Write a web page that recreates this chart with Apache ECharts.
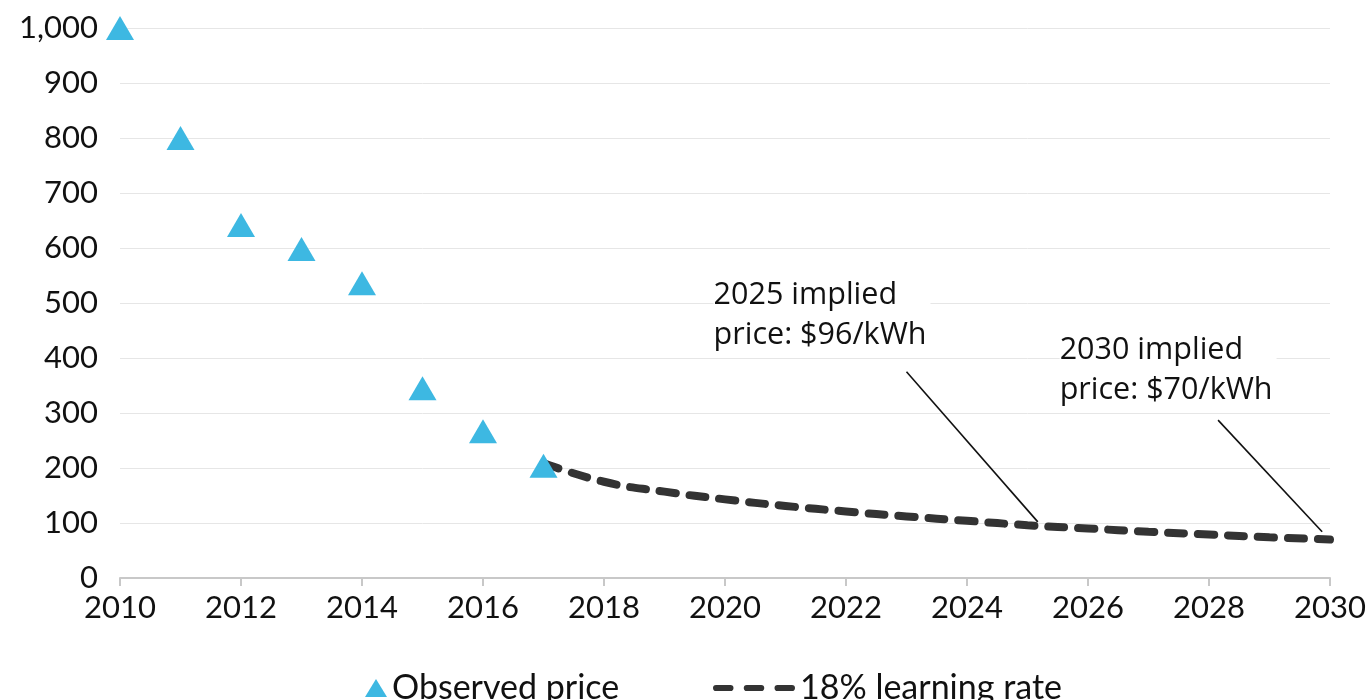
<!DOCTYPE html>
<html><head><meta charset="utf-8">
<script src="https://cdn.jsdelivr.net/npm/echarts@6/dist/echarts.min.js"></script>
<style>html,body{margin:0;padding:0;background:#fff}#c{width:1369px;height:700px}</style>
</head><body><div id="c"></div>
<script>
const observedYears = [2010, 2011, 2012, 2013, 2014, 2015, 2016, 2017];
const observedPrice = [1000, 800, 642, 598, 536, 345, 267, 204];
const curveYears = [2017, 2018, 2019, 2020, 2021, 2022, 2023, 2024, 2025, 2026, 2027, 2028, 2029, 2030];
const curvePrice = [209, 175, 157, 143, 131, 121, 112, 104, 96, 90, 84, 79, 74, 70];
const yTicks = [0, 100, 200, 300, 400, 500, 600, 700, 800, 900, 1000];
const seriesNames = ['Observed price', '18% learning rate'];
const annotations = [
  {text: '2025 implied\nprice: $96/kWh', at: [2019.82, 549], from: [2023.0, 375], to: [2025.17, 102]},
  {text: '2030 implied\nprice: $70/kWh', at: [2025.54, 449], from: [2028.15, 287], to: [2029.87, 84]}
];

const FONT = 'Lato';
const chart = echarts.init(document.getElementById('c'));
chart.setOption({
  animation: false,
  textStyle: {fontFamily: FONT},
  grid: {left: 120, right: 39, top: 28, bottom: 122, containLabel: false},
  legend: [
    {data: [seriesNames[0]], left: 360, top: 666, itemWidth: 22, itemHeight: 18, itemGap: 6,
     textStyle: {fontSize: 34, color: '#111', fontFamily: FONT}},
    {data: [{name: seriesNames[1],
             icon: 'path://M3,0h14a3,3 0 0 1 0,6h-14a3,3 0 0 1 0,-6z M33,0h14a3,3 0 0 1 0,6h-14a3,3 0 0 1 0,-6z M63,0h14a3,3 0 0 1 0,6h-14a3,3 0 0 1 0,-6z',
             itemStyle: {color: '#333'}}],
     left: 708, top: 666, itemWidth: 82, itemHeight: 7, itemGap: 8,
     textStyle: {fontSize: 34, color: '#111', fontFamily: FONT}}
  ],
  xAxis: {
    type: 'value', min: 2010, max: 2030, interval: 2,
    axisLine: {show: true, lineStyle: {color: '#c8c8c8', width: 2}},
    axisTick: {show: true, length: 8, lineStyle: {color: '#c8c8c8', width: 2}},
    splitLine: {show: false},
    axisLabel: {fontSize: 31, color: '#111', margin: 14, formatter: v => String(v)}
  },
  yAxis: {
    type: 'value', min: 0, max: 1000, interval: 100,
    axisLine: {show: false}, axisTick: {show: false},
    splitLine: {lineStyle: {color: '#e6e6e6', width: 1}},
    axisLabel: {fontSize: 31, color: '#111', margin: 22,
      formatter: v => yTicks.includes(v) ? v.toLocaleString('en-US') : ''}
  },
  series: [
    {
      name: seriesNames[1], type: 'line', symbol: 'none', smooth: true, z: 3,
      data: curveYears.map((y, i) => [y, curvePrice[i]]),
      lineStyle: {color: '#333', width: 8, type: [16, 14], cap: 'round'},
      itemStyle: {color: '#333'},
      markLine: {
        silent: true, symbol: 'none', animation: false,
        lineStyle: {color: '#111', width: 1.6, type: 'solid'},
        label: {show: false},
        data: annotations.map(a => [{coord: a.from}, {coord: a.to}])
      },
      markPoint: {
        silent: true, symbol: 'circle', symbolSize: 1,
        itemStyle: {color: 'rgba(0,0,0,0)'},
        label: {show: true, position: [0, 0], align: 'left', verticalAlign: 'top',
          fontSize: 30.5, lineHeight: 40, color: '#111', fontFamily: 'Open Sans',
          backgroundColor: '#fff', padding: [0, 4, 0, 0],
          formatter: p => p.data.text},
        data: annotations.map(a => ({coord: a.at, text: a.text}))
      }
    },
    {
      name: seriesNames[0], type: 'scatter', symbol: 'triangle', symbolSize: [28, 24], z: 4,
      data: observedYears.map((y, i) => [y, observedPrice[i]]),
      itemStyle: {color: '#3db8e2', opacity: 1}
    }
  ]
});
</script></body></html>
